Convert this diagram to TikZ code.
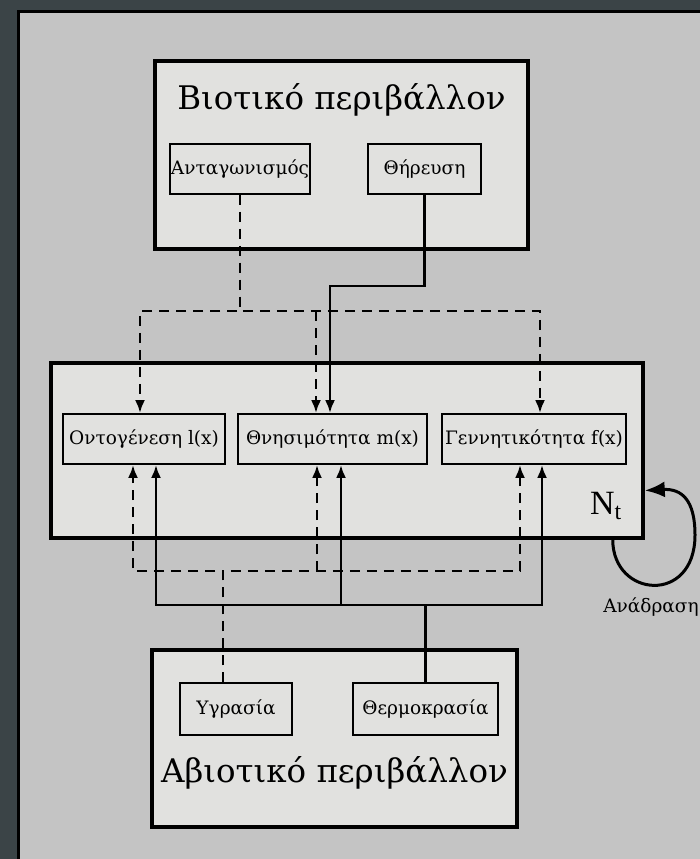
\documentclass[tikz,border=0pt]{standalone}
\usepackage{fontspec}
\setmainfont{DejaVu Serif}
\newfontfamily\popfont{Liberation Serif}
\usetikzlibrary{arrows.meta,positioning}

\definecolor{frame}{HTML}{3B4447}
\definecolor{paper}{HTML}{C4C4C4}
\definecolor{boxfill}{HTML}{E1E1DF}

\begin{document}
\begin{tikzpicture}[x=1pt, y=1pt, >={Latex[length=13pt,width=10pt]}]
        \tikzstyle{bigbox} = [draw, rectangle, line width=3.5pt, fill=boxfill]
        \tikzstyle{block} = [draw, rectangle, line width=1.8pt, fill=boxfill, minimum height=50pt, inner sep=0pt, font=\fontsize{18.5}{22}\selectfont]
        \tikzstyle{heading} = [font=\fontsize{32.5}{38}\selectfont]
        \tikzstyle{conn} = [line width=2.8pt]
        \tikzstyle{broken} = [conn, dash pattern=on 10pt off 7pt]

        \useasboundingbox (0,0) rectangle (700,-859);
        \fill [frame] (0,0) rectangle (700,-859);
        \fill [paper] (18,-12) rectangle (700,-859);
        \draw [line width=3pt] (18,-859) -- (18,-12) -- (700,-12);

        % Biotic environment
        \node [bigbox, minimum width=373pt, minimum height=188pt] (bio) at (341.5,-155) {};
        \node [heading, above of=bio, node distance=55pt] (biotitle) {Βιοτικό περιβάλλον};
        \node [block, minimum width=140pt] (comp) at (240,-169) {Ανταγωνισμός};
        \node [block, right of=comp, node distance=184.5pt, minimum width=113pt] (pred) {Θήρευση};

        % Population
        \node [bigbox, minimum width=592pt, minimum height=175pt] (pop) at (347,-450.5) {};
        \node [block, minimum width=162pt] (ont) at (144,-439) {Οντογένεση l(x)};
        \node [block, right of=ont, node distance=188.5pt, minimum width=189pt] (mort) {Θνησιμότητα m(x)};
        \node [block, right of=mort, node distance=201.5pt, minimum width=184pt] (fert) {Γεννητικότητα f(x)};
        \node [font=\popfont\fontsize{34}{38}\selectfont] (nt) at (606,-506) {N\textsubscript{t}};

        % Abiotic environment
        \node [bigbox, minimum width=365pt, minimum height=177pt] (abio) at (334.5,-738.5) {};
        \node [block, minimum width=112pt, minimum height=52pt] (hum) at (236,-709) {Υγρασία};
        \node [block, right of=hum, node distance=189.5pt, minimum width=145pt, minimum height=52pt] (temp) {Θερμοκρασία};
        \node [heading, below of=abio, node distance=34.5pt] (abiotitle) {Αβιοτικό περιβάλλον};

        \coordinate (dtop) at (0,-311);
        \coordinate (stop) at (0,-286);
        \coordinate (dbot) at (0,-571);
        \coordinate (sbot) at (0,-605);
        \coordinate (loopright) at (695,-535);

        \draw [broken, ->] (comp.south) |- ([xshift=-4pt]ont.north |- dtop) -- ([xshift=-4pt]ont.north);
        \draw [broken, ->] (comp.south) |- ([xshift=6pt]fert.north |- dtop) -- ([xshift=6pt]fert.north);
        \draw [broken, ->] ([xshift=-16.5pt]mort.north |- dtop) -- ([xshift=-16.5pt]mort.north);
        \draw [conn, ->] (pred.south) -- (pred.south |- stop) -| ([xshift=-2.5pt]mort.north);

        \draw [broken, ->] ([xshift=-13pt]hum.north) |- ([xshift=-11pt]ont.south |- dbot) -- ([xshift=-11pt]ont.south);
        \draw [broken, ->] ([xshift=-13pt]hum.north) |- ([xshift=-14pt]fert.south |- dbot) -- ([xshift=-14pt]fert.south);
        \draw [broken, ->] ([xshift=-15.5pt]mort.south |- dbot) -- ([xshift=-15.5pt]mort.south);
        \draw [conn, ->] (temp.north) |- ([xshift=12pt]ont.south |- sbot) -- ([xshift=12pt]ont.south);
        \draw [conn, ->] (temp.north) |- ([xshift=8pt]fert.south |- sbot) -- ([xshift=8pt]fert.south);
        \draw [conn, ->] ([xshift=8.5pt]mort.south |- sbot) -- ([xshift=8.5pt]mort.south);

        % feedback loop
        \draw [line width=3pt, -{Latex[length=20pt,width=16pt]}] ([xshift=-32pt]pop.south east)
            .. controls +(0,-58) and +(0,-70) .. (loopright)
            .. controls +(0,35) and +(37,2) .. ([yshift=-40pt]pop.east);
        \node [font=\fontsize{18.5}{22}\selectfont] (fb) at (651,-607) {Ανάδραση};
    \end{tikzpicture}
\end{document}
